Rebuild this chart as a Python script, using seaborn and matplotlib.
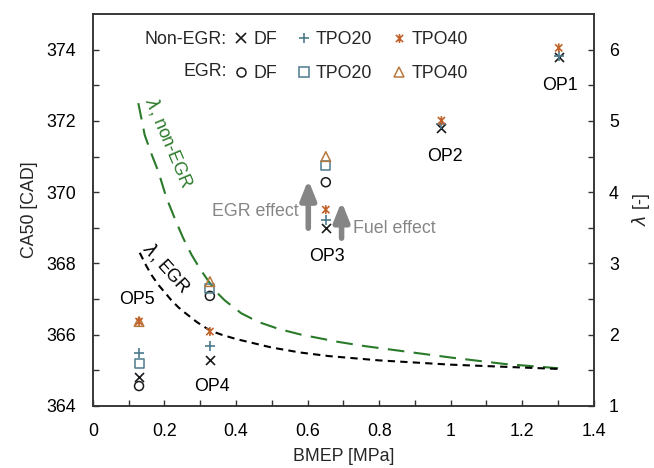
import numpy as np
import matplotlib
matplotlib.use("Agg")
import matplotlib.pyplot as plt
from matplotlib.path import Path
from matplotlib.lines import Line2D
import seaborn as sns

# ---------------- data ----------------
op_labels = ["OP1", "OP2", "OP3", "OP4", "OP5"]
bmep = [1.302, 0.974, 0.651, 0.327, 0.129]
nonegr_df = [373.80, 371.80, 368.99, 365.29, 364.82]
nonegr_tpo20 = [373.82, 371.90, 369.22, 365.67, 365.50]
nonegr_tpo40 = [374.05, 372.01, 369.51, 366.09, 366.37]

egr_bmep = [0.651, 0.327, 0.129]
egr_df = [370.28, 367.09, 364.56]
egr_tpo20 = [370.74, 367.31, 365.20]
egr_tpo40 = [371.00, 367.49, 366.37]

lam_nonegr_bmep = [0.127, 0.145, 0.165, 0.183, 0.205, 0.229, 0.252, 0.276, 0.30, 0.322, 0.345,
                   0.369, 0.415, 0.462, 0.52, 0.583, 0.685, 0.76, 0.85, 1.0, 1.15, 1.3]
lam_nonegr = [5.25, 4.80, 4.52, 4.29, 3.93, 3.63, 3.36, 3.12, 2.92, 2.76, 2.60,
              2.48, 2.30, 2.18, 2.08, 2.00, 1.90, 1.84, 1.78, 1.68, 1.59, 1.53]
lam_egr_bmep = [0.131, 0.15, 0.165, 0.183, 0.20, 0.22, 0.24, 0.257, 0.29, 0.327, 0.36, 0.40,
                0.45, 0.50, 0.58, 0.66, 0.80, 1.0, 1.15, 1.3]
lam_egr = [3.15, 2.96, 2.83, 2.70, 2.60, 2.48, 2.38, 2.31, 2.18, 2.06, 2.00, 1.94,
           1.88, 1.82, 1.75, 1.70, 1.64, 1.58, 1.55, 1.52]

# label positions (data coords)
op_label_x = [1.305, 0.983, 0.653, 0.332, 0.122]
op_label_y = [373.0, 371.0, 368.2, 364.56, 367.0]

# ---------------- style ----------------
sns.set_theme(style="ticks")
plt.rcParams["font.family"] = ["Liberation Sans", "DejaVu Sans"]
plt.rcParams["mathtext.fontset"] = "dejavusans"
FS = 12.8

C_BLACK = "#1a1a1a"
C_TEAL = "#4d7a8e"
C_ORANGE = "#c0622a"
C_BROWN = "#b8793e"
C_GREEN = "#2a7a2a"
C_GREY = "#858585"

star = Path([(-1, -1), (1, 1), (-1, 1), (1, -1), (0, -1.25), (0, 1.25)],
            [Path.MOVETO, Path.LINETO, Path.MOVETO, Path.LINETO, Path.MOVETO, Path.LINETO])

fig = plt.figure(figsize=(6.54, 4.68), dpi=100)
ax = fig.add_axes([0.142, 0.1325, 0.766, 0.8375])
ax2 = ax.twinx()

# lambda curves on right axis
sns.lineplot(x=lam_nonegr_bmep, y=lam_nonegr, ax=ax2, color=C_GREEN, lw=1.5,
             sort=False, estimator=None)
ax2.lines[-1].set_dashes([8, 4.5])
sns.lineplot(x=lam_egr_bmep, y=lam_egr, ax=ax2, color="black", lw=1.5,
             sort=False, estimator=None)
ax2.lines[-1].set_dashes([3.5, 2.5])

# scatter points on left axis
ax.set_zorder(ax2.get_zorder() + 1)
ax.patch.set_visible(False)

S = 42
sns.scatterplot(x=egr_bmep, y=egr_df, ax=ax, marker="o", s=S, color=C_BLACK,
                facecolor="none", edgecolor=C_BLACK, linewidth=1.1, zorder=3)
sns.scatterplot(x=egr_bmep, y=egr_tpo20, ax=ax, marker="s", s=S, color=C_TEAL,
                facecolor="none", edgecolor=C_TEAL, linewidth=1.1, zorder=3)
sns.scatterplot(x=egr_bmep, y=egr_tpo40, ax=ax, marker="^", s=S + 6, color=C_BROWN,
                facecolor="none", edgecolor=C_BROWN, linewidth=1.1, zorder=3)
sns.scatterplot(x=bmep, y=nonegr_df, ax=ax, marker="x", s=S, color=C_BLACK,
                linewidth=1.2, zorder=4)
sns.scatterplot(x=bmep, y=nonegr_tpo20, ax=ax, marker="+", s=S + 14, color=C_TEAL,
                linewidth=1.2, zorder=4)
sns.scatterplot(x=bmep, y=nonegr_tpo40, ax=ax, marker=star, s=S, color=C_ORANGE,
                facecolor="none", edgecolor=C_ORANGE, linewidth=1.2, zorder=5)

# axes limits/ticks
ax.set_xlim(0, 1.4)
ax.set_ylim(364, 375)
ax2.set_ylim(1, 6.5)
ax.set_xticks(np.arange(0, 1.41, 0.2))
ax.set_xticklabels(["0", "0.2", "0.4", "0.6", "0.8", "1", "1.2", "1.4"])
ax.set_xticks(np.arange(0.1, 1.4, 0.2), minor=True)
ax.set_yticks(np.arange(364, 375, 2))
ax.set_yticks(np.arange(365, 375, 2), minor=True)
ax2.set_yticks(np.arange(1, 7, 1))
ax2.set_yticks(np.arange(1.5, 6.5, 1), minor=True)

for a in (ax, ax2):
    a.tick_params(which="both", direction="in", length=4, width=1.0, color="#333333",
                  labelsize=FS, labelcolor="black")
    for sp in a.spines.values():
        sp.set_visible(True)
        sp.set_linewidth(1.1)
        sp.set_color("#333333")
ax.tick_params(axis="x", which="both", pad=12)
ax.tick_params(axis="y", which="both", pad=12, right=False)
ax2.tick_params(axis="y", which="both", pad=11)

ax.set_xlabel("BMEP [MPa]", fontsize=FS, labelpad=6)
ax.set_ylabel("CA50 [CAD]", fontsize=FS, labelpad=6)
ax2.set_ylabel(r"$\lambda$ [-]", fontsize=FS, labelpad=8)
ax2.set_xlabel("")

# OP labels
for lab, lx, ly in zip(op_labels, op_label_x, op_label_y):
    ax.text(lx, ly, lab, fontsize=FS, ha="center", va="center", color="black")

# curve labels
ax.text(0.212, 371.4, r"$\lambda$, non-EGR", fontsize=FS, color=C_GREEN,
        rotation=-67, ha="center", va="center", rotation_mode="anchor")
ax.text(0.207, 367.88, r"$\lambda$, EGR", fontsize=FS, color="black",
        rotation=-48, ha="center", va="center", rotation_mode="anchor")

# effect arrows
egr_arrow = (0.602, 368.99, 370.35)
fuel_arrow = (0.695, 368.71, 369.74)
for xa, y0, y1 in (egr_arrow, fuel_arrow):
    ax.annotate("", xy=(xa, y1), xytext=(xa, y0),
                arrowprops=dict(arrowstyle="-|>,head_width=0.38,head_length=0.95",
                                lw=4, color=C_GREY, shrinkA=0, shrinkB=0))
ax.text(0.576, 369.46, "EGR effect", fontsize=FS, color=C_GREY, ha="right", va="center")
ax.text(0.727, 368.99, "Fuel effect", fontsize=FS, color=C_GREY, ha="left", va="center")

# legend
mk = dict(linestyle="none", markersize=6.5)
handles = [
    Line2D([], [], marker="x", color=C_BLACK, mew=1.2, **mk),
    Line2D([], [], marker="o", color=C_BLACK, mfc="none", mew=1.1, **mk),
    Line2D([], [], marker="+", color=C_TEAL, mew=1.2, linestyle="none", markersize=7.5),
    Line2D([], [], marker="s", color=C_TEAL, mfc="none", mew=1.1, **mk),
    Line2D([], [], marker=star, color=C_ORANGE, mfc="none", mew=1.2, **mk),
    Line2D([], [], marker="^", color=C_BROWN, mfc="none", mew=1.1, **mk),
]
labels = ["DF", "DF", "TPO20", "TPO20", "TPO40", "TPO40"]
ax.legend(handles, labels, ncol=3, loc="upper left", bbox_to_anchor=(0.281, 0.957),
          frameon=False, fontsize=FS, handlelength=0.8, handletextpad=0.3,
          columnspacing=1.1, labelspacing=0.95, borderpad=0, borderaxespad=0)
ax.text(0.267, 0.934, "Non-EGR:", transform=ax.transAxes, fontsize=FS, ha="right", va="center")
ax.text(0.267, 0.853, "EGR:", transform=ax.transAxes, fontsize=FS, ha="right", va="center")

fig.savefig("out.png", dpi=100)
